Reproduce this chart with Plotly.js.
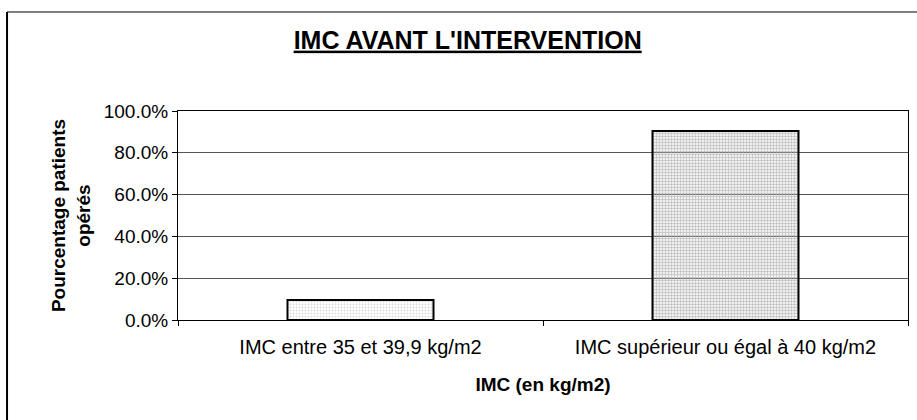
<!DOCTYPE html>
<html>
<head>
<meta charset="utf-8">
<script src="https://cdn.plot.ly/plotly-3.0.1.min.js"></script>
<style>html,body{margin:0;padding:0;background:#fff;}#chart{width:917px;height:420px;}</style>
</head>
<body>
<div id="chart"></div>
<script>
var categories = ["IMC entre 35 et 39,9 kg/m2", "IMC supérieur ou égal à 40 kg/m2"];
var values = [0.096, 0.904];
var yTickVals = [0, 0.2, 0.4, 0.6, 0.8, 1.0];
var yTickText = ["0.0%", "20.0%", "40.0%", "60.0%", "80.0%", "100.0%"];

var font = "Liberation Sans, Arial, sans-serif";

var trace = {
  type: "bar",
  x: categories,
  y: values,
  marker: {
    color: ["#d9d9d9", "#bdbdbd"],
    line: {color: "#000", width: 2},
    pattern: {shape: ".", fgcolor: "#222", bgcolor: ["#e0e0e0", "#bcbcbc"], size: 3, solidity: [0.3, 0.5]}
  },
  hoverinfo: "none"
};

var layout = {
  width: 917, height: 420,
  margin: {l: 178, r: 9, t: 111, b: 100},
  paper_bgcolor: "#fff", plot_bgcolor: "#fff",
  showlegend: false,
  bargap: 0.6,
  font: {family: font, color: "#000", size: 19},
  title: {text: "<b><u>IMC AVANT L'INTERVENTION</u></b>", font: {family: font, size: 25, color: "#000"}, x: 0.51, xanchor: "center", y: 0.905, yanchor: "middle"},
  xaxis: {
    type: "category",
    showline: true, linecolor: "#000", linewidth: 1, mirror: true,
    ticks: "outside", ticklen: 5, tickcolor: "#000", tickson: "boundaries",
    ticklabelstandoff: 9,
    tickfont: {family: font, size: 20},
    showgrid: false,
    title: {text: "<b>IMC (en kg/m2)</b>", font: {family: font, size: 19}, standoff: 20}
  },
  yaxis: {
    range: [0, 1.0],
    tickvals: yTickVals, ticktext: yTickText,
    showline: true, linecolor: "#000", linewidth: 1, mirror: true,
    ticks: "outside", ticklen: 5, tickcolor: "#000",
    tickfont: {family: font, size: 19},
    showgrid: true, gridcolor: "#555", gridwidth: 1,
    zeroline: false,
    title: {text: "<b>Pourcentage patients<br>opérés</b>", font: {family: font, size: 19}, standoff: 8}
  },
  shapes: [
    {type: "line", xref: "paper", yref: "paper", x0: -0.2342, x1: -0.2342, y0: -0.4785, y1: 1.4737, line: {color: "#000", width: 2}},
    {type: "line", xref: "paper", yref: "paper", x0: -0.2342, x1: 1.0123, y0: 1.4737, y1: 1.4737, line: {color: "#000", width: 1}}
  ]
};

Plotly.newPlot("chart", [trace], layout, {staticPlot: true, displayModeBar: false});
</script>
</body>
</html>
